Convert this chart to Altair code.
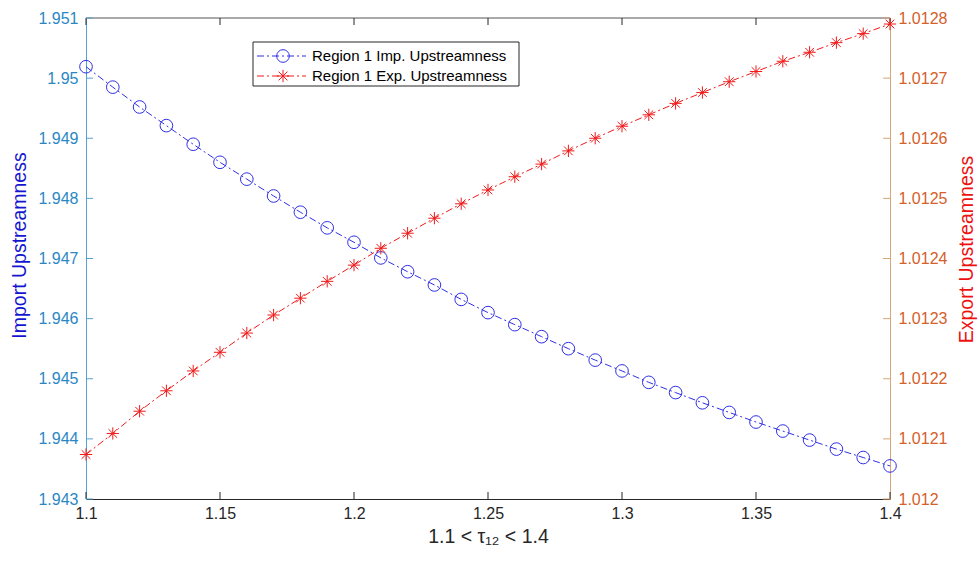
import altair as alt
import pandas as pd

# ---------------- data ----------------
tau = [1.10, 1.11, 1.12, 1.13, 1.14, 1.15, 1.16, 1.17, 1.18, 1.19,
       1.20, 1.21, 1.22, 1.23, 1.24, 1.25, 1.26, 1.27, 1.28, 1.29,
       1.30, 1.31, 1.32, 1.33, 1.34, 1.35, 1.36, 1.37, 1.38, 1.39, 1.40]

imp_up = [1.95019, 1.94985, 1.94952, 1.94921, 1.94890, 1.94860, 1.94832, 1.94804,
          1.94777, 1.94751, 1.94727, 1.94701, 1.94678, 1.94656, 1.94632, 1.94610,
          1.94590, 1.94570, 1.94550, 1.94531, 1.94513, 1.94494, 1.94477, 1.94460,
          1.94444, 1.94428, 1.94413, 1.94398, 1.94383, 1.94369, 1.94355]

exp_up = [1.012074, 1.012109, 1.012146, 1.012180, 1.012213, 1.012244, 1.012276,
          1.012306, 1.012334, 1.012362, 1.012389, 1.012417, 1.012442, 1.012467,
          1.012491, 1.012514, 1.012536, 1.012557, 1.012579, 1.012600, 1.012620,
          1.012639, 1.012658, 1.012676, 1.012694, 1.012711, 1.012728, 1.012743,
          1.012759, 1.012774, 1.012790]

x_ticks = [1.1, 1.15, 1.2, 1.25, 1.3, 1.35, 1.4]
left_ticks = [1.943, 1.944, 1.945, 1.946, 1.947, 1.948, 1.949, 1.950, 1.951]
right_ticks = [1.012, 1.0121, 1.0122, 1.0123, 1.0124, 1.0125, 1.0126, 1.0127, 1.0128]

legend_labels = ["Region 1 Imp. Upstreamness", "Region 1 Exp. Upstreamness"]

# ---------------- style ----------------
W, H = 804, 481
FONT = "Liberation Sans"
BLUE = "#2F2FE6"
RED = "#F01A1A"
LEFT_LABEL = "#2A87C3"
LEFT_DOMAIN = "#55A3D2"
RIGHT_LABEL = "#D4602A"
RIGHT_DOMAIN = "#D9A476"
DARK = "#262626"
DASH = [7, 3, 2, 3]
STAR = "M-1,0L1,0M0,-1L0,1M-0.71,-0.71L0.71,0.71M-0.71,0.71L0.71,-0.71"
TICK = 7
TITLE_SIZE = 19.5

df = pd.DataFrame({"tau": tau, "imp": imp_up, "exp": exp_up})
xt_df = pd.DataFrame({"t": x_ticks})
lt_df = pd.DataFrame({"t": left_ticks})
rt_df = pd.DataFrame({"t": right_ticks})

xscale = alt.Scale(domain=[1.1, 1.4], nice=False, zero=False)
lscale = alt.Scale(domain=[1.943, 1.951], nice=False, zero=False)
rscale = alt.Scale(domain=[1.012, 1.0128], nice=False, zero=False)

xaxis = alt.Axis(values=x_ticks, format="~g", ticks=False, grid=False,
                 domainColor=DARK, domainWidth=1, labelColor=DARK,
                 labelFont=FONT, labelFontSize=16, labelPadding=6,
                 labelFlush=False, labelOverlap=False,
                 title="1.1 < τ₁₂ < 1.4", titleFont=FONT, titleFontSize=TITLE_SIZE,
                 titleFontWeight="normal", titleColor=DARK,
                 titleY=43, titleBaseline="alphabetic")

laxis = alt.Axis(values=left_ticks, format="~g", ticks=False, grid=False,
                 domainColor=LEFT_DOMAIN, domainWidth=1, labelColor=LEFT_LABEL,
                 labelFont=FONT, labelFontSize=16, labelPadding=8,
                 labelFlush=False, labelOverlap=False,
                 title="Import Upstreamness", titleFont=FONT, titleFontSize=TITLE_SIZE,
                 titleFontWeight="normal", titleColor="#1515D0",
                 titleAngle=270, titleX=-76, titleY=227,
                 titleBaseline="top", titleAlign="center")

raxis = alt.Axis(orient="right", values=right_ticks, format="~g", ticks=False,
                 grid=False, domainColor=RIGHT_DOMAIN, domainWidth=1,
                 labelColor=RIGHT_LABEL, labelFont=FONT, labelFontSize=16,
                 labelPadding=8, labelFlush=False, labelOverlap=False,
                 title="Export Upstreamness", titleFont=FONT, titleFontSize=TITLE_SIZE,
                 titleFontWeight="normal", titleColor="#EE1111",
                 titleAngle=270, titleX=67, titleY=231,
                 titleBaseline="top", titleAlign="center")

X = alt.X("tau:Q", scale=xscale, axis=xaxis)

# ---------------- left (import) ----------------
blue_line = alt.Chart(df).mark_line(color=BLUE, strokeWidth=1, strokeDash=DASH).encode(
    x=X, y=alt.Y("imp:Q", scale=lscale, axis=laxis))
blue_pts = alt.Chart(df).mark_point(shape="circle", filled=False, size=160,
                                    color=BLUE, strokeWidth=1, opacity=1).encode(
    x=X, y=alt.Y("imp:Q", scale=lscale, axis=laxis))
left_tk = alt.Chart(lt_df).mark_rule(color=LEFT_DOMAIN, strokeWidth=1).encode(
    y=alt.Y("t:Q", scale=lscale, axis=laxis), x=alt.value(0), x2=alt.value(TICK))
left_group = alt.layer(blue_line, blue_pts, left_tk)

# ---------------- right (export) ----------------
red_line = alt.Chart(df).mark_line(color=RED, strokeWidth=1, strokeDash=DASH).encode(
    x=X, y=alt.Y("exp:Q", scale=rscale, axis=raxis))
red_pts = alt.Chart(df).mark_point(shape=STAR, filled=False, size=150,
                                   color=RED, strokeWidth=1, opacity=1).encode(
    x=X, y=alt.Y("exp:Q", scale=rscale, axis=raxis))
right_tk = alt.Chart(rt_df).mark_rule(color=RIGHT_DOMAIN, strokeWidth=1).encode(
    y=alt.Y("t:Q", scale=rscale, axis=raxis), x=alt.value(W - TICK), x2=alt.value(W))
right_group = alt.layer(red_line, red_pts, right_tk)

# ---------------- inward x ticks & top border ----------------
xt_x = alt.X("t:Q", scale=xscale, axis=xaxis)
bottom_tk = alt.Chart(xt_df).mark_rule(color=DARK, strokeWidth=1).encode(
    x=xt_x, y=alt.value(H - TICK), y2=alt.value(H))
top_tk = alt.Chart(xt_df).mark_rule(color=DARK, strokeWidth=1).encode(
    x=xt_x, y=alt.value(0), y2=alt.value(TICK))
top_border = alt.Chart(pd.DataFrame({"a": [0]})).mark_rule(color="#555555", strokeWidth=1).encode(
    x=alt.value(0), x2=alt.value(W), y=alt.value(0))

# ---------------- legend ----------------
LX0, LX1, LY0, LY1 = 167, 433, 24, 68
legend_box = alt.Chart(pd.DataFrame({"a": [0]})).mark_rect(
    fill="white", stroke=DARK, strokeWidth=1).encode(
    x=alt.value(LX0), x2=alt.value(LX1), y=alt.value(LY0), y2=alt.value(LY1))

legend_layers = [legend_box]
for i, (lab, col, shp, sz) in enumerate(zip(legend_labels, [BLUE, RED],
                                             ["circle", STAR], [160, 150])):
    ly = 38 + 20 * i
    ldf = pd.DataFrame({"label": [lab]})
    legend_layers.append(alt.Chart(ldf).mark_rule(color=col, strokeWidth=1, strokeDash=DASH).encode(
        x=alt.value(171), x2=alt.value(220), y=alt.value(ly)))
    legend_layers.append(alt.Chart(ldf).mark_point(shape=shp, filled=False, size=sz, color=col,
                                                   strokeWidth=1, opacity=1).encode(
        x=alt.value(197), y=alt.value(ly)))
    legend_layers.append(alt.Chart(ldf).mark_text(align="left", baseline="middle", font=FONT,
                                                  fontSize=15, color="#000000").encode(
        x=alt.value(226), y=alt.value(ly), text="label:N"))

chart = alt.layer(
    top_border, bottom_tk, top_tk, left_group, right_group, *legend_layers
).resolve_scale(y="independent").properties(
    width=W, height=H,
    autosize=alt.AutoSizeParams(type="none"),
    padding={"left": 86, "top": 18, "right": 89, "bottom": 63},
    background="white",
).configure_view(stroke=None)

chart.save("out.html", embed_options={"renderer": "svg", "actions": False})
